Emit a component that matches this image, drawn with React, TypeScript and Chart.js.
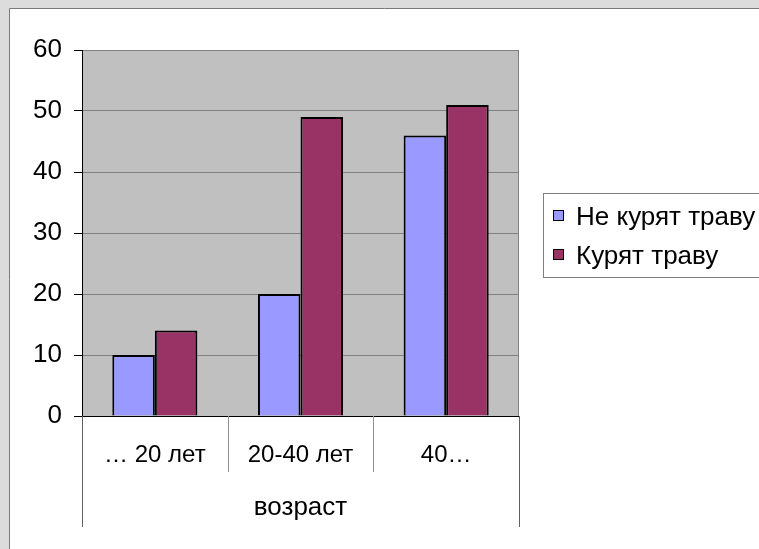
import React, { useEffect, useRef } from "react";
import { Chart, registerables } from "chart.js";

Chart.register(...registerables);

const categories = ["… 20 лет", "20-40 лет", "40…"];
const notSmoking = [10, 20, 46];
const smoking = [14, 49, 51];
const seriesLabels = ["Не курят траву", "Курят траву"];
const axisTitle = "возраст";
const yTicks = { min: 0, max: 60, step: 10 };

const FONT = "'Liberation Sans', Arial, sans-serif";

const framePlugin = {
  id: "frame",
  beforeDraw(chart: any) {
    const { ctx, width, height, chartArea } = chart;
    ctx.save();
    ctx.fillStyle = "#dcdcdc";
    ctx.fillRect(0, 0, width, height);
    ctx.fillStyle = "#ffffff";
    ctx.fillRect(9, 8, width, height);
    ctx.strokeStyle = "#7a7a7a";
    ctx.lineWidth = 1;
    ctx.beginPath();
    ctx.moveTo(9.5, height + 5);
    ctx.lineTo(9.5, 8.5);
    ctx.lineTo(width + 5, 8.5);
    ctx.stroke();
    ctx.fillStyle = "#c0c0c0";
    ctx.fillRect(chartArea.left, chartArea.top, chartArea.right - chartArea.left, chartArea.bottom - chartArea.top);
    ctx.strokeStyle = "#808080";
    ctx.strokeRect(chartArea.left + 0.5, chartArea.top + 0.5, chartArea.right - chartArea.left - 1, chartArea.bottom - chartArea.top);
    ctx.restore();
  },
  afterDraw(chart: any) {
    const { ctx, chartArea } = chart;
    const xs = chart.scales.x;
    const n = chart.data.labels.length;
    const w = (xs.right - xs.left) / n;
    ctx.save();
    ctx.lineWidth = 1;
    for (let i = 0; i <= n; i++) {
      const x = Math.round(xs.left + i * w) + 0.5;
      const outer = i === 0 || i === n;
      ctx.strokeStyle = outer ? "#606060" : "#909090";
      ctx.beginPath();
      ctx.moveTo(x, chartArea.bottom);
      ctx.lineTo(x, chartArea.bottom + (outer ? 111 : 56));
      ctx.stroke();
    }
    // legend
    const lx = 543.5, ly = 193.5;
    ctx.strokeStyle = "#808080";
    ctx.strokeRect(lx, ly, 240, 84);
    ctx.font = `26px ${FONT}`;
    ctx.textBaseline = "alphabetic";
    ctx.textAlign = "left";
    chart.data.datasets.forEach((ds: any, i: number) => {
      const base = 225 + i * 39;
      ctx.fillStyle = ds.backgroundColor;
      ctx.fillRect(553, base - 15, 11, 11);
      ctx.strokeStyle = "#000";
      ctx.strokeRect(553.5, base - 14.5, 10, 10);
      ctx.fillStyle = "#000";
      ctx.fillText(ds.label, 576, base);
    });
    ctx.restore();
  },
};

export default function App() {
  const ref = useRef<HTMLCanvasElement>(null);
  useEffect(() => {
    if (!ref.current) return;
    const chart = new Chart(ref.current, {
      type: "bar",
      data: {
        labels: categories,
        datasets: [
          {
            label: seriesLabels[0],
            data: notSmoking,
            backgroundColor: "#9999ff",
            borderColor: "#000000",
            borderWidth: 2,
            categoryPercentage: 0.584,
            barPercentage: 1,
          },
          {
            label: seriesLabels[1],
            data: smoking,
            backgroundColor: "#993366",
            borderColor: "#000000",
            borderWidth: 2,
            categoryPercentage: 0.584,
            barPercentage: 1,
          },
        ],
      },
      options: {
        responsive: false,
        animation: false,
        layout: { padding: { left: 0, top: 50, right: 240, bottom: 0 } },
        plugins: { legend: { display: false }, tooltip: { enabled: false } },
        scales: {
          x: {
            afterFit: (s: any) => { s.height = 133; },
            grid: { display: false, drawTicks: false },
            border: { display: true, color: "#000", width: 1 },
            ticks: { color: "#000", font: { family: FONT, size: 24 }, padding: 25, maxRotation: 0 },
            title: {
              display: true,
              text: axisTitle,
              color: "#000",
              font: { family: FONT, size: 26 },
              padding: { top: 0, bottom: 26 },
            },
          },
          y: {
            min: yTicks.min,
            max: yTicks.max,
            afterFit: (s: any) => { s.width = 82; },
            grid: { color: "#808080", tickColor: "#000", tickLength: 8, lineWidth: 1 },
            border: { display: true, color: "#000", width: 1 },
            ticks: { stepSize: yTicks.step, color: "#000", font: { family: FONT, size: 26 }, padding: 12 },
          },
        },
      },
      plugins: [framePlugin],
    });
    return () => chart.destroy();
  }, []);
  return (
    <div style={{ position: "fixed", left: 0, top: 0, width: 759, height: 549 }}>
      <canvas ref={ref} width={759} height={549} style={{ display: "block" }} />
    </div>
  );
}
